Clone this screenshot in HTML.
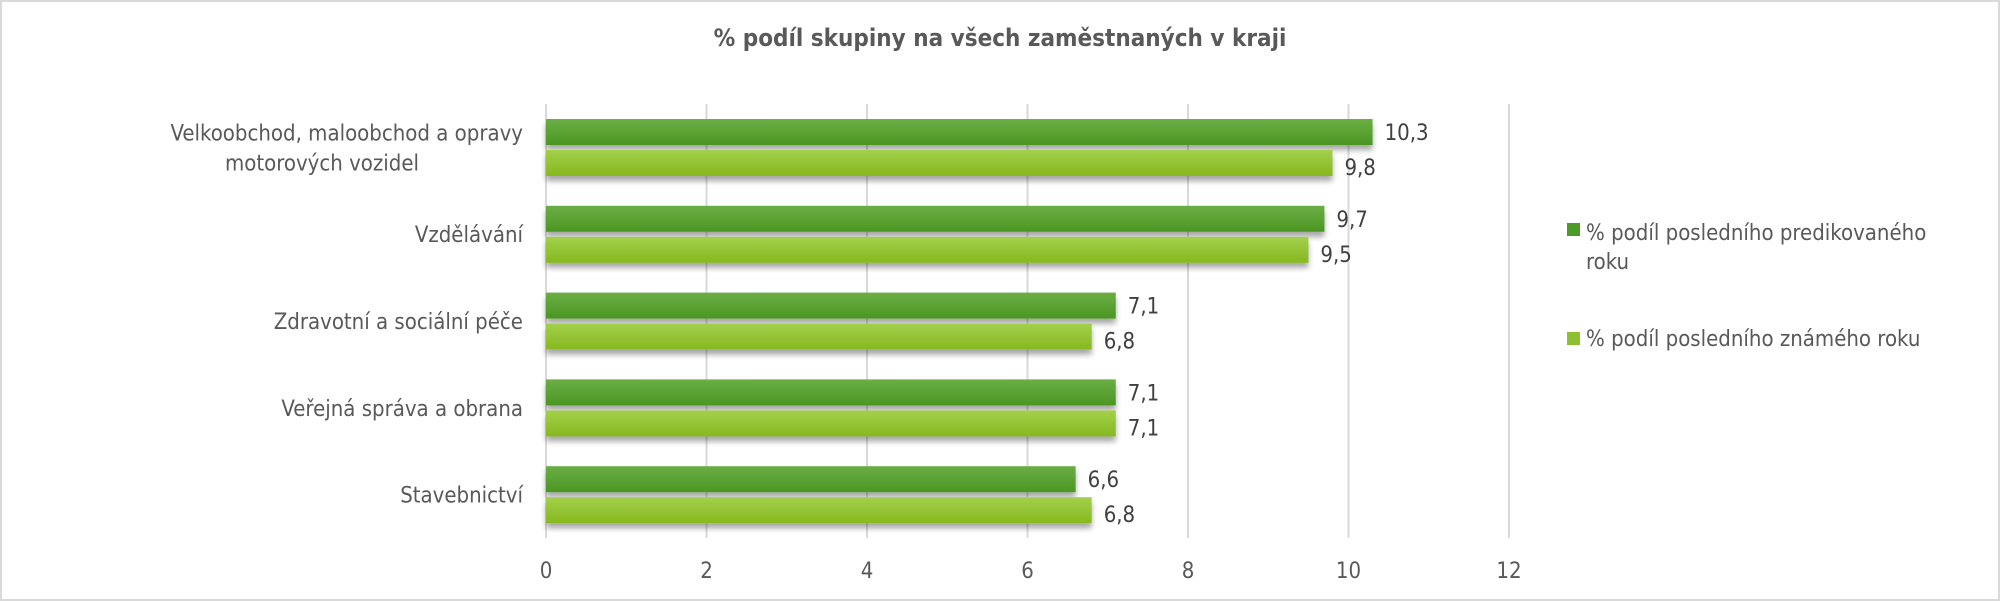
<!DOCTYPE html>
<html><head><meta charset="utf-8"><style>
html,body{margin:0;padding:0;background:#fff;}
svg{display:block;font-family:"DejaVu Sans Condensed","Liberation Sans",sans-serif;}
</style></head><body>
<svg id="chart" width="2000" height="601" viewBox="0 0 2000 601" xmlns="http://www.w3.org/2000/svg">
<defs>
<linearGradient id="gDark" x1="0" y1="0" x2="0" y2="1"><stop offset="0" stop-color="#6aae45"/><stop offset="1" stop-color="#4b9622"/></linearGradient>
<linearGradient id="gLight" x1="0" y1="0" x2="0" y2="1"><stop offset="0" stop-color="#a2d04c"/><stop offset="1" stop-color="#86b81f"/></linearGradient>
<filter id="sh" x="-5%" y="-20%" width="110%" height="180%"><feGaussianBlur in="SourceAlpha" stdDeviation="3"/><feOffset dx="0" dy="5"/><feComponentTransfer><feFuncA type="linear" slope="0.35"/></feComponentTransfer><feMerge><feMergeNode/><feMergeNode in="SourceGraphic"/></feMerge></filter>
</defs>
<rect x="1" y="1" width="1998" height="599" fill="#fff" stroke="#d9d9d9" stroke-width="2"/>
<text x="1000" y="46" text-anchor="middle" font-size="24" font-weight="bold" fill="#595959">% podíl skupiny na všech zaměstnaných v kraji</text>
<g id="grid"></g>
<g id="bars"></g>
<g id="labels"></g>
<g>
<rect x="1567" y="223" width="13" height="13" fill="#4e9a27"/>
<text x="1586" y="240" font-size="22" fill="#595959">% podíl posledního predikovaného</text>
<text x="1586" y="269" font-size="22" fill="#595959">roku</text>
<rect x="1567" y="332" width="13" height="13" fill="#8dc030"/>
<text x="1586" y="346" font-size="22" fill="#595959">% podíl posledního známého roku</text>
</g>
</svg>
<script>
const categories = [["Velkoobchod, maloobchod a opravy","motorových vozidel"],["Vzdělávání"],["Zdravotní a sociální péče"],["Veřejná správa a obrana"],["Stavebnictví"]];
const predicted = [10.3, 9.7, 7.1, 7.1, 6.6];
const known = [9.8, 9.5, 6.8, 7.1, 6.8];
const predictedLabels = ["10,3","9,7","7,1","7,1","6,6"];
const knownLabels = ["9,8","9,5","6,8","7,1","6,8"];
const ticks = [0,2,4,6,8,10,12];

(function(){
const NS="http://www.w3.org/2000/svg";
const x0=546, x1=1509, xmax=12, plotTop=104, plotBottom=538;
const xs=v=>x0+(x1-x0)*v/xmax;
const band=(plotBottom-plotTop)/categories.length;
function mk(tag,attrs,parent){const e=document.createElementNS(NS,tag);for(const k in attrs)e.setAttribute(k,attrs[k]);parent.appendChild(e);return e;}
const grid=document.getElementById('grid'),bars=document.getElementById('bars'),labels=document.getElementById('labels');
ticks.forEach(t=>{
  const l=mk('line',{x1:xs(t),x2:xs(t),y1:plotTop,y2:plotBottom,stroke:'#d9d9d9','stroke-width':2},grid);
  
  
  const tx=mk('text',{x:xs(t),y:578,'text-anchor':'middle','font-size':22,fill:'#595959'},labels);
  tx.textContent=t;
  
  
});
categories.forEach((c,i)=>{
  const by=plotTop+band*i+15;
  const h=26, gap=5;
  const b1=mk('rect',{x:x0,y:by,width:xs(predicted[i])-x0,height:h,fill:'url(#gDark)',filter:'url(#sh)'},bars);
  
  
  const b2=mk('rect',{x:x0,y:by+h+gap,width:xs(known[i])-x0,height:h,fill:'url(#gLight)',filter:'url(#sh)'},bars);
  
  
  const v1=mk('text',{x:xs(predicted[i])+12,y:by+h/2+8,'font-size':22,fill:'#404040'},labels);
  v1.textContent=predictedLabels[i];
  
  
  const v2=mk('text',{x:xs(known[i])+12,y:by+h+gap+h/2+12,'font-size':22,fill:'#404040'},labels);
  v2.textContent=knownLabels[i];
  
  
  const cy=plotTop+band*i+band/2;
  c.forEach((line,j)=>{
    const ly=cy-(c.length-1)*15+j*30+8;
    const centered=c.length>1&&j===1;
    const t=mk('text',{x:centered?322:523,y:ly,'text-anchor':centered?'middle':'end','font-size':22,fill:'#595959'},labels);
    t.textContent=line;
    
    
  });
});
})();
</script>
</body></html>
